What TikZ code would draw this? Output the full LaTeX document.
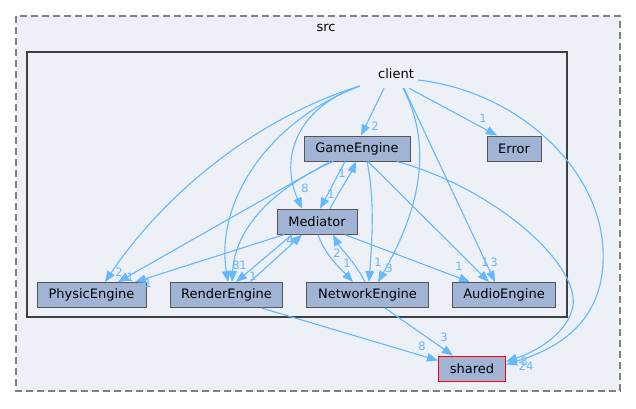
\documentclass[tikz,border=0pt]{standalone}
\usepackage{fontspec}
\setmainfont{DejaVu Sans}
\usetikzlibrary{calc,arrows.meta}
\definecolor{nodefill}{HTML}{A2B4D6}
\definecolor{nodeborder}{HTML}{555555}
\definecolor{edgecol}{HTML}{63B8FF}
\definecolor{bgfill}{HTML}{EDF0F7}
\definecolor{dashcol}{HTML}{808080}
\definecolor{framecol}{HTML}{404040}
\tikzset{
  dirbox/.style={draw=nodeborder, fill=nodefill, line width=1pt, inner sep=0pt,
    minimum height=25pt, font=\fontsize{13}{15}\selectfont, text=black},
  dep/.style={draw=edgecol, line width=1.1pt, -{Triangle[length=11pt,width=8.5pt]}},
  lab/.style={text=edgecol, inner sep=0pt, font=\fontsize{11.5}{13}\selectfont},
}
\begin{document}
\begin{tikzpicture}[x=1pt,y=-1pt]
\useasboundingbox (0,0) rectangle (636,408);
% outer cluster src
\draw[dashcol, fill=bgfill, line width=1.5pt, dash pattern=on 7pt off 4pt] (16,16) rectangle (620,391);
\node[font=\fontsize{13}{15}\selectfont, inner sep=0pt] (srclabel) at (326,28) {src};
% inner cluster client
\draw[framecol, fill=bgfill, line width=2pt] (27,52) rectangle (567,317);
\node[font=\fontsize{13}{15}\selectfont, inner sep=0pt, minimum width=50pt, minimum height=28pt] (client) at (396,74) {client};

\node[dirbox, minimum width=106pt] (GameEngine) at (357,148.5) {GameEngine};
\node[dirbox, minimum width=54pt] (Error) at (514,148.5) {Error};
\node[dirbox, minimum width=80pt] (Mediator) at (317,221.7) {Mediator};
\node[dirbox, minimum width=109pt] (PhysicEngine) at (91.5,295) {PhysicEngine};
\node[dirbox, minimum width=112pt] (RenderEngine) at (226.5,295) {RenderEngine};
\node[dirbox, minimum width=122pt] (NetworkEngine) at (367.5,295) {NetworkEngine};
\node[dirbox, minimum width=103pt] (AudioEngine) at (504,295) {AudioEngine};
\node[dirbox, minimum width=67pt, draw=red] (shared) at (472,368.5) {shared};

% client edges
\draw[dep] ($(client.south)+(-12,0)$) -- ($(GameEngine.north)+(4,0)$);
\draw[dep] ($(client.south)+(13,0)$) -- ($(Error.north)+(-17,0)$);
\draw[dep] ($(client.east)+(-3,6)$) .. controls (520,92) and (600,170) .. (603,250)
   .. controls (606,320) and (560,348) .. ($(shared.east)+(0,-4)$);
\draw[dep] ($(client.south)+(8,0)$) -- ($(AudioEngine.north)+(-9,0)$);
\draw[dep] ($(client.south)+(7,0)$) .. controls (430,140) and (425,200) .. ($(NetworkEngine.north)+(10.5,0)$);
\draw[dep] ($(client.west)+(-11,12)$) .. controls (295,108) and (280,160) .. ($(Mediator.north)+(-15,0)$);
\draw[dep] ($(client.west)+(-11,12)$) .. controls (270,120) and (215,200) .. ($(RenderEngine.north)+(1.5,0)$);
\draw[dep] ($(client.west)+(-11,12)$) .. controls (250,120) and (160,200) .. ($(PhysicEngine.north)+(13.5,0)$);

% GameEngine edges
\draw[dep] ($(GameEngine.south)+(-12,0)$) -- ($(Mediator.north)+(3,0)$);
\draw[dep] ($(Mediator.north)+(13,0)$) .. controls (340,190) and (350,175) .. ($(GameEngine.south)+(-1,0)$);
\draw[dep] ($(GameEngine.south)+(-27,0)$) -- ($(PhysicEngine.north)+(26.5,0)$);
\draw[dep] ($(GameEngine.south)+(-24,0)$) .. controls (270,190) and (235,230) .. ($(RenderEngine.north)+(5.5,0)$);
\draw[dep] ($(GameEngine.south)+(10,0)$) .. controls (375,200) and (372,240) .. ($(NetworkEngine.north)+(1.5,0)$);
\draw[dep] ($(GameEngine.south)+(11,0)$) -- ($(AudioEngine.north)+(-15,0)$);
\draw[dep] ($(GameEngine.south)+(40,0)$) .. controls (500,190) and (585,270) .. (572,310)
   .. controls (565,335) and (535,352) .. ($(shared.east)+(0,-7)$);

% Mediator edges
\draw[dep] ($(Mediator.south)+(-33,0)$) -- ($(PhysicEngine.north)+(43.5,0)$);
\draw[dep] ($(Mediator.south)+(-25,0)$) -- ($(RenderEngine.north)+(9.5,0)$);
\draw[dep] ($(RenderEngine.north)+(23.5,0)$) -- ($(Mediator.south)+(-15,0)$);
\draw[dep] ($(Mediator.south)+(1,0)$) .. controls (325,255) and (340,268) .. ($(NetworkEngine.north)+(-14.5,0)$);
\draw[dep] ($(NetworkEngine.north)+(-2.5,0)$) .. controls (355,262) and (340,248) .. ($(Mediator.south)+(16,0)$);
\draw[dep] ($(Mediator.south)+(28,0)$) -- ($(AudioEngine.north)+(-34,0)$);

% to shared
\draw[dep] ($(RenderEngine.south)+(35,0)$) -- ($(shared.west)+(0,-8)$);
\draw[dep] ($(NetworkEngine.south)+(17.5,0)$) -- ($(shared.north)+(-19,0)$);

% labels
\node[lab] (l1) at (375,126) {2};
\node[lab] (l2) at (483,118) {1};
\node[lab] (l3) at (526,366) {24};
\node[lab] (l4) at (494,262) {3};
\node[lab] (l5) at (389,268) {3};
\node[lab] (l6) at (305,188) {8};
\node[lab] (l7) at (236,265) {8};
\node[lab] (l8) at (119,272) {2};
\node[lab] (l9) at (331,194) {1};
\node[lab] (l10) at (342,173) {1};
\node[lab] (l11) at (130,277) {1};
\node[lab] (l12) at (243,265) {1};
\node[lab] (l13) at (378,262) {1};
\node[lab] (l14) at (485,262) {1};
\node[lab] (l15) at (524,361) {8};
\node[lab] (l16) at (148,283) {1};
\node[lab] (l17) at (253,276) {1};
\node[lab] (l18) at (290,240) {4};
\node[lab] (l19) at (347,263) {1};
\node[lab] (l20) at (337,253) {2};
\node[lab] (l21) at (459,266) {1};
\node[lab] (l22) at (422,346) {8};
\node[lab] (l23) at (444,337) {3};
\end{tikzpicture}
\end{document}
